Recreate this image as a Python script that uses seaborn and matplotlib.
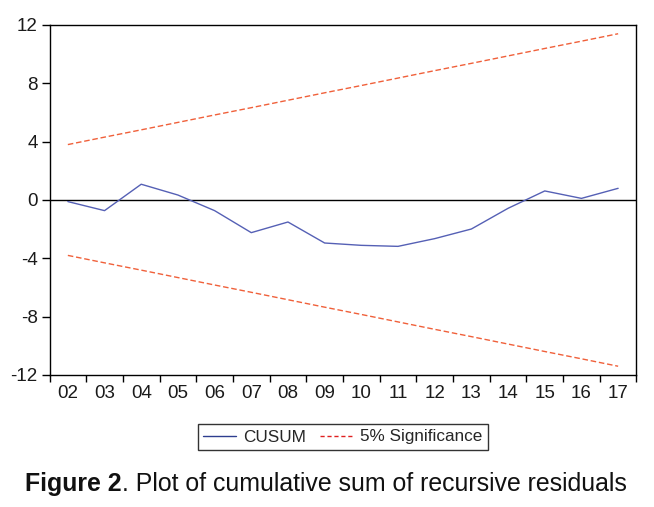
import numpy as np
import pandas as pd
import seaborn as sns
import matplotlib.pyplot as plt
from matplotlib.lines import Line2D

# dados
years = ['02', '03', '04', '05', '06', '07', '08', '09',
         '10', '11', '12', '13', '14', '15', '16', '17']
cusum = [-0.11, -0.73, 1.08, 0.34, -0.73, -2.24, -1.51, -2.95,
         -3.11, -3.18, -2.65, -1.99, -0.57, 0.62, 0.11, 0.80]
upper = [3.80, 4.31, 4.81, 5.32, 5.83, 6.33, 6.84, 7.35,
         7.85, 8.36, 8.87, 9.37, 9.88, 10.39, 10.89, 11.40]
lower = [-v for v in upper]

blue = '#5560b5'
red = '#f0603a'

sns.set_style('white')
plt.rcParams['font.family'] = ['Liberation Sans', 'DejaVu Sans']

df = pd.DataFrame({'pos': np.arange(len(years)) + 0.5,
                   'cusum': cusum, 'upper': upper, 'lower': lower})

fig = plt.figure(figsize=(6.54, 5.07), dpi=100)
ax = fig.add_axes([0.0757, 0.2604, 0.8975, 0.6903])

sns.lineplot(data=df, x='pos', y='cusum', ax=ax, color=blue, lw=1.0)
sns.lineplot(data=df, x='pos', y='upper', ax=ax, color=red, lw=1.0, linestyle=(0, (4, 2)))
sns.lineplot(data=df, x='pos', y='lower', ax=ax, color=red, lw=1.0, linestyle=(0, (4, 2)))
ax.axhline(0, color='black', lw=1.0, zorder=1)

ax.set_xlim(0, len(years))
ax.set_ylim(-12, 12)
ax.set_yticks([-12, -8, -4, 0, 4, 8, 12])
ax.set_yticklabels(['-12', '-8', '-4', '0', '4', '8', '12'])
ax.set_xticks(np.arange(len(years) + 1))
ax.set_xticklabels([])
ax.set_xticks(df['pos'], minor=True)
ax.set_xticklabels(years, minor=True)
ax.tick_params(axis='x', which='major', direction='out', length=5, width=1, color='black', bottom=True)
ax.tick_params(axis='x', which='minor', length=0, pad=7, labelsize=13.5, labelcolor='#1a1a1a')
ax.tick_params(axis='y', direction='out', length=5.5, width=1, color='black', left=True,
               pad=3, labelsize=13.5, labelcolor='#1a1a1a')
ax.set_xlabel('')
ax.set_ylabel('')
for s in ax.spines.values():
    s.set_color('black')
    s.set_linewidth(1.0)

handles = [Line2D([], [], color='#2e3e8f', lw=1.0),
           Line2D([], [], color='#e02020', lw=1.0, linestyle=(0, (3, 2)))]
leg = fig.legend(handles, ['CUSUM', '5% Significance'], loc='center',
                 bbox_to_anchor=(343 / 654, 1 - 437 / 507), ncol=2, frameon=True,
                 fancybox=False, edgecolor='black', fontsize=12.3, handlelength=1.9,
                 columnspacing=0.8, handletextpad=0.45, borderpad=0.3, borderaxespad=0)
leg.get_frame().set_linewidth(1.0)

# legenda da figura: parte em negrito + resto, centralizada
y0 = 1 - 484 / 507
t1 = fig.text(0, y0, 'Figure 2', fontweight='bold', fontsize=17.9, va='center', color='#111111')
t2 = fig.text(0, y0, '. Plot of cumulative sum of recursive residuals', fontsize=17.9,
              va='center', color='#111111')
fig.canvas.draw()
r = fig.canvas.get_renderer()
w1 = t1.get_window_extent(r).width
w2 = t2.get_window_extent(r).width
x0 = 326 - (w1 + w2) / 2
t1.set_x(x0 / 654)
t2.set_x((x0 + w1) / 654)

fig.savefig('out.png', dpi=100)
